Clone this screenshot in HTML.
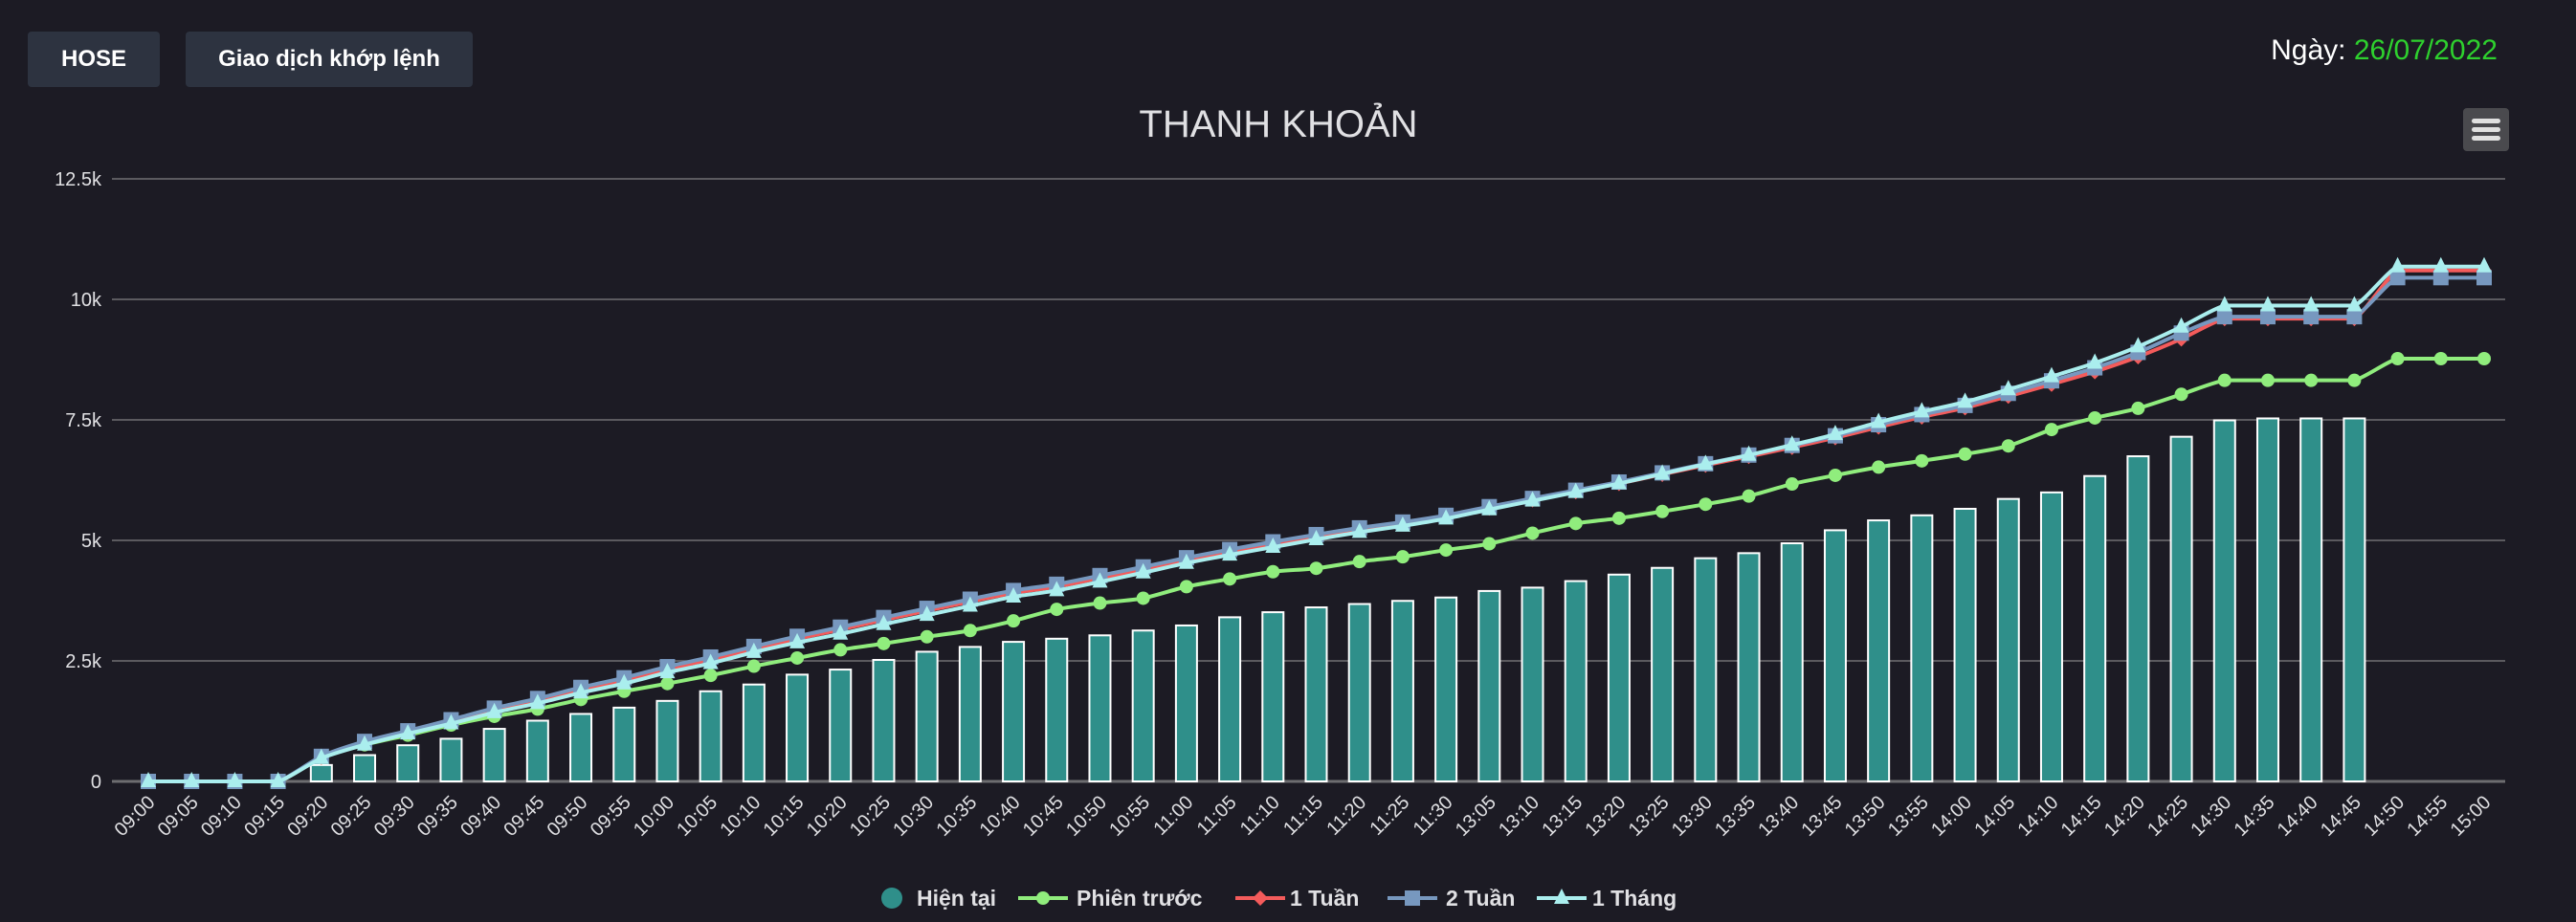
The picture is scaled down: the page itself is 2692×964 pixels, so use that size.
<!DOCTYPE html>
<html><head><meta charset="utf-8">
<style>
html,body{margin:0;padding:0;background:#1c1b24;width:2692px;height:964px;overflow:hidden;font-family:"Liberation Sans","Noto Sans CJK SC",sans-serif;}
.btn{position:absolute;top:33px;height:58px;background:#2d3340;border-radius:4px;color:#fff;font-weight:bold;font-size:24px;line-height:58px;text-align:center;}
#date{position:absolute;right:82px;top:36px;font-size:30px;color:#fff;}
#date span{color:#2ed12e;}
#menu{position:absolute;left:2574px;top:113px;width:48px;height:45px;background:#4a4a4e;border-radius:4px;}
#menu i{position:absolute;left:9px;width:30px;height:5px;border-radius:3px;background:#e0e0e0;}
svg{position:absolute;left:0;top:0;}
</style></head><body>
<div class="btn" style="left:29px;width:138px">HOSE</div>
<div class="btn" style="left:194px;width:300px">Giao dịch khớp lệnh</div>
<div id="date">Ngày: <span>26/07/2022</span></div>
<div id="menu"><i style="top:11px"></i><i style="top:20px"></i><i style="top:29px"></i></div>
<svg id="chart" width="2692" height="964"></svg>
<script>
const categories=["09:00","09:05","09:10","09:15","09:20","09:25","09:30","09:35","09:40","09:45","09:50","09:55","10:00","10:05","10:10","10:15","10:20","10:25","10:30","10:35","10:40","10:45","10:50","10:55","11:00","11:05","11:10","11:15","11:20","11:25","11:30","13:05","13:10","13:15","13:20","13:25","13:30","13:35","13:40","13:45","13:50","13:55","14:00","14:05","14:10","14:15","14:20","14:25","14:30","14:35","14:40","14:45","14:50","14:55","15:00"];
const current=[0,0,0,0,340,545,750,885,1090,1260,1400,1530,1670,1870,2010,2215,2320,2520,2690,2790,2895,2960,3030,3130,3235,3405,3510,3610,3680,3745,3815,3950,4020,4155,4290,4430,4630,4735,4940,5210,5415,5520,5655,5860,5995,6335,6745,7150,7490,7530,7530,7530,null,null,null];
const prevSession=[0,0,0,0,490,760,960,1170,1350,1500,1700,1870,2030,2200,2390,2560,2730,2860,3000,3130,3330,3570,3700,3800,4040,4200,4350,4420,4560,4660,4800,4930,5150,5350,5460,5600,5750,5920,6170,6350,6520,6650,6790,6960,7300,7540,7740,8030,8320,8320,8320,8320,8770,8770,8770];
const week1=[0,0,0,0,500,810,1020,1250,1480,1680,1900,2100,2330,2530,2750,2960,3150,3350,3540,3730,3910,4040,4220,4400,4600,4770,4930,5080,5220,5350,5490,5670,5840,6010,6180,6370,6560,6740,6930,7130,7350,7560,7750,7990,8240,8500,8810,9180,9600,9600,9600,9600,10600,10600,10600];
const week2=[0,0,0,0,520,830,1050,1280,1520,1720,1950,2150,2380,2580,2800,3010,3200,3400,3590,3780,3960,4090,4270,4450,4640,4810,4970,5120,5260,5380,5520,5700,5870,6040,6210,6400,6590,6770,6970,7170,7400,7610,7800,8050,8310,8580,8900,9300,9640,9640,9640,9640,10450,10450,10450];
const month1=[0,0,0,0,480,760,990,1200,1430,1620,1840,2030,2260,2450,2680,2880,3060,3260,3450,3640,3830,3960,4140,4330,4530,4700,4860,5020,5170,5300,5450,5640,5820,6000,6180,6380,6580,6770,6980,7200,7450,7670,7870,8130,8400,8680,9020,9430,9870,9870,9870,9870,10680,10680,10680];
const yTicks=[0,2500,5000,7500,10000,12500];
const yTickLabels=["0","2.5k","5k","7.5k","10k","12.5k"];

const NS="http://www.w3.org/2000/svg";
const svg=document.getElementById('chart');
const PL=117,PR=2618,Y0=817,Y1=187,YMAX=12500;
function yScale(v){return Y0-(v/YMAX)*(Y0-Y1);}
function xScale(i){return 155+i*(2596-155)/(categories.length-1);}
function mk(tag,attrs,parent){const e=document.createElementNS(NS,tag);for(const k in attrs)e.setAttribute(k,attrs[k]);(parent||svg).appendChild(e);return e;}

const title=mk('text',{x:1336,y:143,'text-anchor':'middle','font-size':40,fill:'#e0e0e3'});
title.textContent='THANH KHOẢN';



yTicks.forEach((v,k)=>{
  const g=mk('line',{x1:PL,x2:PR,y1:yScale(v),y2:yScale(v),stroke:k===0?'#6d6d70':'#707073','stroke-width':k===0?3:1.5});
  
  
  const t=mk('text',{x:106,y:yScale(v)+7,'text-anchor':'end','font-size':20,fill:'#e0e0e3'});
  t.textContent=yTickLabels[k];
  
  
});
categories.forEach((c,i)=>{
  const x=xScale(i);
  const t=mk('text',{x:x+8,y:840,'text-anchor':'end','font-size':20,fill:'#e0e0e3',transform:`rotate(-45 ${x+8} 840)`});
  t.textContent=c;
  
  
});
current.forEach((v,i)=>{
  if(v===null)return;
  const y=yScale(v);
  const r=mk('rect',{x:xScale(i)-11,y:y,width:22,height:Math.max(0,Y0-y),fill:'#2f8f8a',stroke:'#ffffff','stroke-width':2});
  
  
});
function splinePath(vals){
  const pts=vals.map((v,i)=>[xScale(i),yScale(v)]);
  let d=`M${pts[0][0]},${pts[0][1]}`;
  const s=1.5;
  for(let i=1;i<pts.length;i++){
    const p0=pts[i-1],p1=pts[i];
    const pm=pts[i-2]||p0,pn=pts[i+1]||p1;
    const c1=[p0[0]+(p1[0]-pm[0])/(2*s+1)*0.5,p0[1]+(p1[1]-pm[1])/(2*s+1)*0.5];
    const c2=[p1[0]-(pn[0]-p0[0])/(2*s+1)*0.5,p1[1]-(pn[1]-p0[1])/(2*s+1)*0.5];
    if(p0[1]===p1[1]){c1[1]=p0[1];c2[1]=p1[1];}
    d+=` C${c1[0]},${c1[1]} ${c2[0]},${c2[1]} ${p1[0]},${p1[1]}`;
  }
  return d;
}
function marker(type,x,y,color,name){
  let e;
  if(type==='circle')e=mk('circle',{cx:x,cy:y,r:7,fill:color});
  else if(type==='square')e=mk('rect',{x:x-8,y:y-8,width:16,height:16,fill:color});
  else if(type==='diamond')e=mk('polygon',{points:`${x},${y-8} ${x+8},${y} ${x},${y+8} ${x-8},${y}`,fill:color});
  else e=mk('polygon',{points:`${x},${y-10} ${x+8},${y+6} ${x-8},${y+6}`,fill:color});
  
  
}
const seriesList=[
 {vals:prevSession,color:'#90ed7d',m:'circle',n:'prev-session'},
 {vals:week1,color:'#f45b5b',m:'diamond',n:'1-week'},
 {vals:week2,color:'#7798bf',m:'square',n:'2-week'},
 {vals:month1,color:'#aaeeee',m:'triangle',n:'1-month'}];
seriesList.forEach(s=>{
  const p=mk('path',{d:splinePath(s.vals),fill:'none',stroke:s.color,'stroke-width':4,'stroke-linejoin':'round'});
  
  
  s.vals.forEach((v,i)=>marker(s.m,xScale(i),yScale(v),s.color,'point-'+s.n));
});
const legend=[
 {x:932,t:'Hiện tại',tx:958,kind:'bar'},
 {x:1090,t:'Phiên trước',tx:1125,c:'#90ed7d',m:'circle'},
 {x:1317,t:'1 Tuần',tx:1348,c:'#f45b5b',m:'diamond'},
 {x:1476,t:'2 Tuần',tx:1511,c:'#7798bf',m:'square'},
 {x:1632,t:'1 Tháng',tx:1664,c:'#aaeeee',m:'triangle'}];
legend.forEach(l=>{
  const g=mk('g',{});
  
  
  if(l.kind==='bar'){mk('circle',{cx:l.x,cy:939,r:11,fill:'#2f8f8a'},g);}
  else{
    mk('line',{x1:l.x-26,x2:l.x+26,y1:939,y2:939,stroke:l.c,'stroke-width':4},g);
    const x=l.x,y=939;
    if(l.m==='circle')mk('circle',{cx:x,cy:y,r:7,fill:l.c},g);
    else if(l.m==='square')mk('rect',{x:x-8,y:y-8,width:16,height:16,fill:l.c},g);
    else if(l.m==='diamond')mk('polygon',{points:`${x},${y-8} ${x+8},${y} ${x},${y+8} ${x-8},${y}`,fill:l.c},g);
    else mk('polygon',{points:`${x},${y-10} ${x+8},${y+6} ${x-8},${y+6}`,fill:l.c},g);
  }
  const t=mk('text',{x:l.tx,y:947,'font-size':23,'font-weight':'bold',fill:'#e0e0e3'},g);
  t.textContent=l.t;
});
</script>
</body></html>
